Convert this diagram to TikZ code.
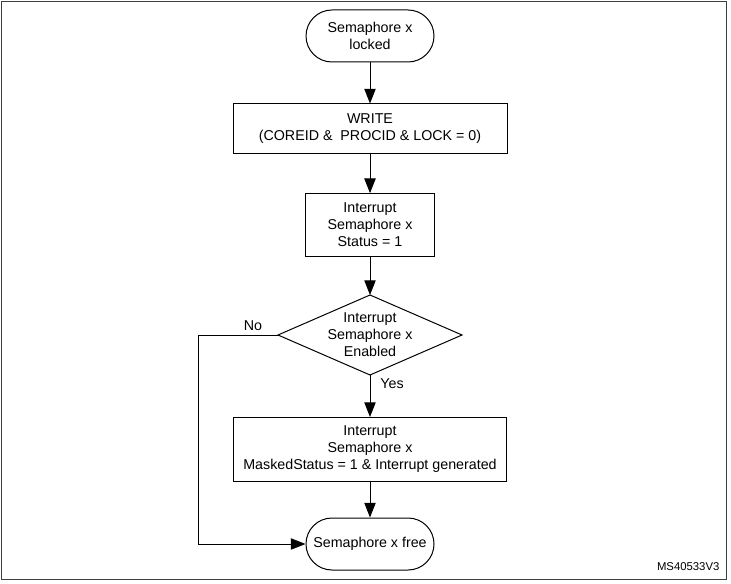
\documentclass[tikz,border=0pt]{standalone}
\usepackage{fontspec}
\setmainfont{Liberation Sans}
\usetikzlibrary{arrows.meta,calc}
\begin{document}
\begin{tikzpicture}[x=0.75pt,y=-0.75pt,
  every node/.style={font=\fontsize{10.7}{12.75}\selectfont, align=center},
  term/.style={draw, line width=0.75pt, rounded corners=19.5pt, minimum width=96pt, minimum height=39pt, inner sep=0pt},
  procbox/.style={draw, line width=0.75pt, rectangle, inner sep=0pt},
  conn/.style={line width=0.75pt, -{Triangle[length=11pt,width=8.5pt]}},
  lbl/.style={inner sep=1pt}]
\useasboundingbox (0,0) rectangle (731,584);
\draw[line width=0.9pt, black!75] (1.5,1.5) rectangle (726.5,579.5);

\node[term] (t1) at (370,36) {Semaphore x\\locked};
\node[procbox, minimum width=205.5pt, minimum height=37.5pt] (b1) at (370,129) {WRITE\\(COREID \&\ \ PROCID \& LOCK = 0)};
\node[procbox, minimum width=96.5pt, minimum height=47pt] (b2) at (370,225) {Interrupt\\Semaphore x\\Status = 1};
\node[inner sep=0pt] (d) at (370,335) {Interrupt\\Semaphore x\\Enabled};
\coordinate (dt) at (370,295);
\coordinate (db) at (370,375);
\coordinate (dl) at (278,335);
\coordinate (dr) at (462,335);
\draw[line width=0.75pt] (dt) -- (dr) -- (db) -- (dl) -- cycle;
\node[procbox, minimum width=205pt, minimum height=48pt] (b3) at (370,449.5) {Interrupt\\Semaphore x\\MaskedStatus = 1 \& Interrupt generated};
\node[term] (t2) at (370,544) {Semaphore x free};
\coordinate (nc) at (198,335);

\draw[conn] (t1) -- (b1);
\draw[conn] (b1) -- (b2);
\draw[conn] (b2) -- (dt);
\draw[conn] (db) -- (b3);
\draw[conn] (b3) -- (t2);
\draw[conn] (dl) -- (nc) |- (t2.west);

\node[lbl] (no) at (253,326) {No};
\node[lbl] (yes) at (392,384) {Yes};
\node[lbl, anchor=east, font=\fontsize{8.5}{10}\selectfont] (ms) at (721,567) {MS40533V3};
\end{tikzpicture}
\end{document}
